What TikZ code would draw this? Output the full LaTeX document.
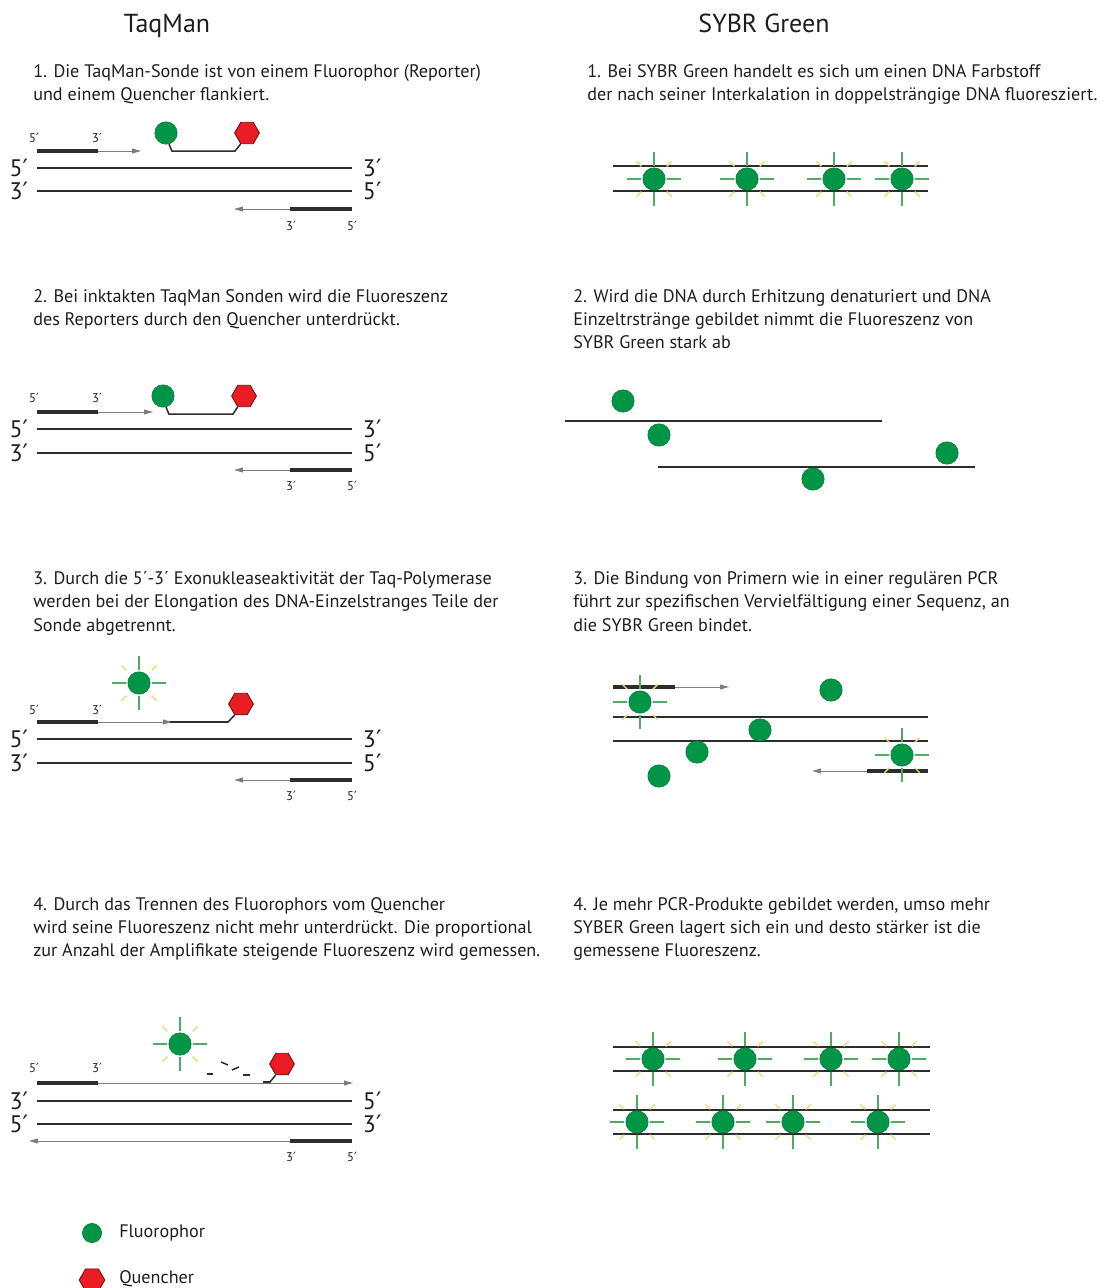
\documentclass[tikz,border=0pt]{standalone}
\usepackage{fontspec}
\setmainfont{PT Sans}
\newfontfamily\primefont{DejaVu Sans}
\usepackage{tikz}
\usetikzlibrary{shapes.geometric,arrows.meta,positioning,calc}

\definecolor{dyegreen}{RGB}{0,150,70}
\definecolor{raygreen}{RGB}{80,170,95}
\definecolor{rayyellow}{RGB}{228,222,120}
\definecolor{qred}{RGB}{236,28,36}
\definecolor{strandgray}{RGB}{45,45,45}
\definecolor{extgray}{RGB}{125,125,125}
\definecolor{inkblack}{RGB}{30,28,28}

\newcommand{\pr}{{\primefont\char"2032}}

\begin{document}
\begin{tikzpicture}[
  x=0.025cm, y=-0.025cm,
  strand/.style={strandgray,line width=1.4pt},
  primer/.style={strandgray,line width=3pt},
  ext/.style={extgray,line width=0.7pt,-{Triangle[length=2.2mm,width=1.2mm]}},
  linker/.style={strandgray,line width=1.1pt},
  endlbl/.style={font=\fontsize{17}{17}\selectfont,text=inkblack},
  primlbl/.style={font=\fontsize{9}{9}\selectfont,text=inkblack},
  txt/.style={anchor=base west,inner sep=0pt,font=\fontsize{12.9}{15}\selectfont,text=inkblack},
  head/.style={anchor=base,inner sep=0pt,font=\fontsize{18.5}{20}\selectfont,text=inkblack},
  dye/.style={circle,fill=dyegreen,draw=dyegreen!80!black,line width=0.4pt,inner sep=0pt,minimum size=0.56cm},
  quench/.style={regular polygon,regular polygon sides=6,fill=qred,draw=qred!45!black,line width=0.6pt,inner sep=0pt,minimum size=0.62cm},
  glow/.pic={
    \foreach \a in {0,90,180,270}
      \draw[raygreen,line width=1.2pt] (\a:13) -- (\a:27);
    \foreach \a in {45,135,225,315}
      \draw[rayyellow,line width=1pt] (\a:18) -- (\a:25);
  },
]
\useasboundingbox (0,0) rectangle (1104,1288);

% Headings
\node[head] (hTaq) at (167,33) {TaqMan};
\node[head] (hSybr) at (764,33) {SYBR Green};

% ---------------- TaqMan, step 1
\node[txt] (t1a) at (33,77) {1. Die TaqMan-Sonde ist von einem Fluorophor (Reporter)};
\node[txt] (t1b) at (33,100) {und einem Quencher flankiert.};

\draw[primer] (37,151) -- (98,151);
\draw[ext] (98,151) -- (141,151);
\node[primlbl] (t1p5) at (34,138) {5\pr};
\node[primlbl] (t1p3) at (97,138) {3\pr};
\draw[strand] (37,168) -- (352,168);
\draw[strand] (37,191) -- (352,191);
\node[endlbl,anchor=east] (t1l1) at (33,168) {5\pr};
\node[endlbl,anchor=west] (t1r1) at (358,168) {3\pr};
\node[endlbl,anchor=east] (t1l2) at (33,191) {3\pr};
\node[endlbl,anchor=west] (t1r2) at (358,191) {5\pr};
\draw[primer] (290,209) -- (352,209);
\draw[ext] (290,209) -- (234,209);
\node[primlbl] (t1q3) at (291,226) {3\pr};
\node[primlbl] (t1q5) at (352,226) {5\pr};

\node[dye] (f1) at (166,133) {};
\node[quench] (q1) at (247,133) {};
\draw[linker] (f1.285) -- ++(3,7) -- ++(63,0) -- (q1.240);

% ---------------- TaqMan, step 2
\node[txt] (t2a) at (33,302) {2. Bei inktakten TaqMan Sonden wird die Fluoreszenz};
\node[txt] (t2b) at (33,325) {des Reporters durch den Quencher unterdrückt.};

\draw[primer] (37,412) -- (98,412);
\draw[ext] (98,412) -- (153,412);
\node[primlbl] (t2p5) at (34,398) {5\pr};
\node[primlbl] (t2p3) at (97,398) {3\pr};
\draw[strand] (37,429) -- (352,429);
\draw[strand] (37,453) -- (352,453);
\node[endlbl,anchor=east] (t2l1) at (33,429) {5\pr};
\node[endlbl,anchor=west] (t2r1) at (358,429) {3\pr};
\node[endlbl,anchor=east] (t2l2) at (33,453) {3\pr};
\node[endlbl,anchor=west] (t2r2) at (358,453) {5\pr};
\draw[primer] (290,470) -- (352,470);
\draw[ext] (290,470) -- (234,470);
\node[primlbl] (t2q3) at (291,486) {3\pr};
\node[primlbl] (t2q5) at (352,486) {5\pr};

\node[dye] (f2) at (163,396) {};
\node[quench] (q2) at (244,396) {};
\draw[linker] (f2.285) -- ++(3,7) -- ++(64,0) -- (q2.240);

% ---------------- TaqMan, step 3
\node[txt] (t3a) at (33,584) {3. Durch die 5´-3´ Exonukleaseaktivität der Taq-Polymerase};
\node[txt] (t3b) at (33,607) {werden bei der Elongation des DNA-Einzelstranges Teile der};
\node[txt] (t3c) at (33,631) {Sonde abgetrennt.};

\pic at (139,683) {glow};
\node[dye] (f3) at (139,683) {};
\node[quench] (q3) at (241,704) {};
\draw[primer] (37,722) -- (98,722);
\draw[ext] (98,722) -- (172,722);
\draw[linker] (170,722) -- (228,722) -- (q3.240);
\node[primlbl] (t3p5) at (34,710) {5\pr};
\node[primlbl] (t3p3) at (97,710) {3\pr};
\draw[strand] (37,739) -- (352,739);
\draw[strand] (37,763) -- (352,763);
\node[endlbl,anchor=east] (t3l1) at (33,739) {5\pr};
\node[endlbl,anchor=west] (t3r1) at (358,739) {3\pr};
\node[endlbl,anchor=east] (t3l2) at (33,763) {3\pr};
\node[endlbl,anchor=west] (t3r2) at (358,763) {5\pr};
\draw[primer] (290,780) -- (352,780);
\draw[ext] (290,780) -- (234,780);
\node[primlbl] (t3q3) at (291,796) {3\pr};
\node[primlbl] (t3q5) at (352,796) {5\pr};

% ---------------- TaqMan, step 4
\node[txt] (t4a) at (33,910) {4. Durch das Trennen des Fluorophors vom Quencher};
\node[txt] (t4b) at (33,933) {wird seine Fluoreszenz nicht mehr unterdrückt. Die proportional};
\node[txt] (t4c) at (33,956) {zur Anzahl der Amplifikate steigende Fluoreszenz wird gemessen.};

\pic at (180,1044) {glow};
\node[dye] (f4) at (180,1044) {};
\node[quench] (q4) at (282,1064) {};
% probe fragments
\draw[linker] (207,1074) -- (213,1074);
\draw[linker] (221,1062) -- (228,1065);
\draw[linker] (232,1070) -- (239,1067);
\draw[linker] (243,1075) -- (250,1075);
\draw[linker] (q4.240) -- (270,1082) -- (263,1082);

\draw[primer] (37,1083) -- (98,1083);
\draw[ext] (98,1083) -- (353,1083);
\node[primlbl] (t4p5) at (34,1068) {5\pr};
\node[primlbl] (t4p3) at (97,1068) {3\pr};
\draw[strand] (37,1101) -- (352,1101);
\draw[strand] (37,1124) -- (352,1124);
\node[endlbl,anchor=east] (t4l1) at (33,1101) {3\pr};
\node[endlbl,anchor=west] (t4r1) at (358,1101) {5\pr};
\node[endlbl,anchor=east] (t4l2) at (33,1124) {5\pr};
\node[endlbl,anchor=west] (t4r2) at (358,1124) {3\pr};
\draw[primer] (290,1141) -- (352,1141);
\draw[ext] (290,1141) -- (29,1141);
\node[primlbl] (t4q3) at (291,1157) {3\pr};
\node[primlbl] (t4q5) at (352,1157) {5\pr};

% ---------------- SYBR Green, step 1
\node[txt] (s1a) at (587,77) {1. Bei SYBR Green handelt es sich um einen DNA Farbstoff};
\node[txt] (s1b) at (587,100) {der nach seiner Interkalation in doppelsträngige DNA fluoresziert.};

\draw[strand] (613,166) -- (928,166);
\draw[strand] (613,191) -- (928,191);
\foreach \x [count=\i] in {654,747,834,902} {
  \pic at (\x,179) {glow};
  \node[dye] (sy1\i) at (\x,179) {};
}

% ---------------- SYBR Green, step 2
\node[txt] (s2a) at (573,302) {2. Wird die DNA durch Erhitzung denaturiert und DNA};
\node[txt] (s2b) at (573,325) {Einzeltrstränge gebildet nimmt die Fluoreszenz von};
\node[txt] (s2c) at (573,348) {SYBR Green stark ab};

\draw[strand] (565,421) -- (882,421);
\draw[strand] (658,467) -- (975,467);
\node[dye] (sy21) at (623,401) {};
\node[dye] (sy22) at (659,435) {};
\node[dye] (sy23) at (947,453) {};
\node[dye] (sy24) at (813,479) {};

% ---------------- SYBR Green, step 3
\node[txt] (s3a) at (573,584) {3. Die Bindung von Primern wie in einer regulären PCR};
\node[txt] (s3b) at (573,607) {führt zur spezifischen Vervielfältigung einer Sequenz, an};
\node[txt] (s3c) at (573,631) {die SYBR Green bindet.};

\draw[primer] (613,687) -- (675,687);
\draw[ext] (675,687) -- (729,687);
\draw[strand] (613,717) -- (928,717);
\draw[strand] (613,741) -- (928,741);
\draw[primer] (867,771) -- (928,771);
\draw[ext] (867,771) -- (812,771);
\pic at (640,702) {glow};
\node[dye] (sy31) at (640,702) {};
\pic at (902,755) {glow};
\node[dye] (sy32) at (902,755) {};
\node[dye] (sy33) at (831,690) {};
\node[dye] (sy34) at (760,730) {};
\node[dye] (sy35) at (697,752) {};
\node[dye] (sy36) at (659,776) {};

% ---------------- SYBR Green, step 4
\node[txt] (s4a) at (573,910) {4. Je mehr PCR-Produkte gebildet werden, umso mehr};
\node[txt] (s4b) at (573,933) {SYBER Green lagert sich ein und desto stärker ist die};
\node[txt] (s4c) at (573,956) {gemessene Fluoreszenz.};

\draw[strand] (613,1047) -- (930,1047);
\draw[strand] (613,1071) -- (930,1071);
\draw[strand] (613,1110) -- (930,1110);
\draw[strand] (613,1134) -- (930,1134);
\foreach \x [count=\i] in {653,745,831,899} {
  \pic at (\x,1059) {glow};
  \node[dye] (sy4a\i) at (\x,1059) {};
}
\foreach \x [count=\i] in {637,723,793,878} {
  \pic at (\x,1122) {glow};
  \node[dye] (sy4b\i) at (\x,1122) {};
}

% Legend
\node[dye,minimum size=0.48cm] (legF) at (92,1233) {};
\node[txt,anchor=west] (legFt) at (119,1233) {Fluorophor};
\node[quench,minimum size=0.64cm] (legQ) at (92,1280) {};
\node[txt,anchor=west] (legQt) at (119,1279) {Quencher};

\end{tikzpicture}
\end{document}
